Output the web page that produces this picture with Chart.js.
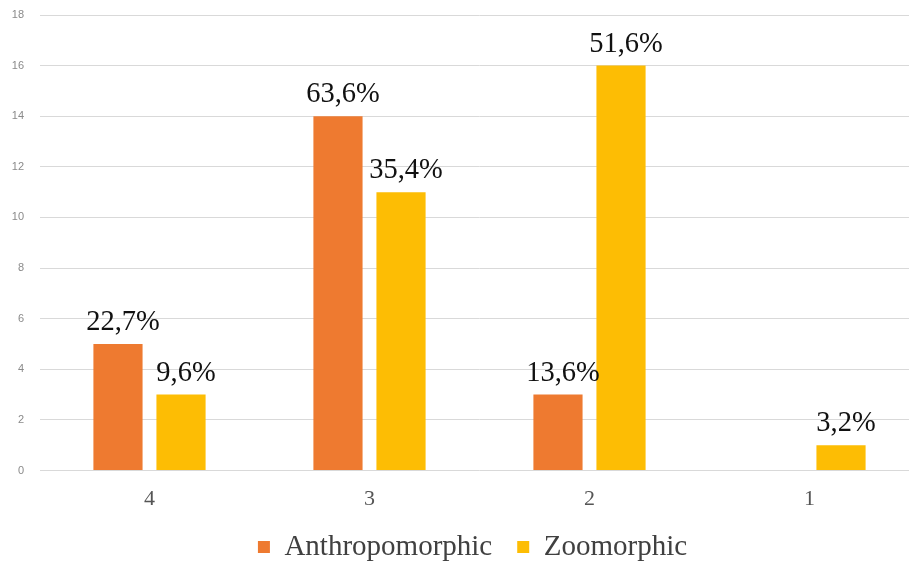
<!DOCTYPE html>
<html>
<head>
<meta charset="utf-8">
<script src="https://cdn.jsdelivr.net/npm/chart.js@4.4.1/dist/chart.umd.min.js"></script>
<style>
  html, body { margin: 0; padding: 0; background: #ffffff; overflow: hidden; }
  #wrap { position: absolute; left: 0; top: -7px; width: 945px; height: 569px; }
</style>
</head>
<body>
<div id="wrap"><canvas id="chart"></canvas></div>
<script>
// Number of items per category, with the share of each type printed above the bar
const categories = ['4', '3', '2', '1'];
const anthropomorphic = [5, 14, 3, 0];
const zoomorphic = [3, 11, 16, 1];
const anthropomorphicLabels = ['22,7%', '63,6%', '13,6%', null];
const zoomorphicLabels = ['9,6%', '35,4%', '51,6%', '3,2%'];
const yMin = 0, yMax = 18, yStep = 2;

const SERIF = '"Liberation Serif", "Times New Roman", serif';

// Percentage text above each bar
const barValueLabels = {
  id: 'barValueLabels',
  afterDatasetsDraw(chart) {
    const ctx = chart.ctx;
    ctx.save();
    ctx.font = '28.5px ' + SERIF;
    ctx.fillStyle = '#111111';
    ctx.textAlign = 'center';
    ctx.textBaseline = 'alphabetic';
    chart.data.datasets.forEach((ds, i) => {
      const meta = chart.getDatasetMeta(i);
      meta.data.forEach((bar, j) => {
        const text = ds.valueLabels[j];
        if (!text) return;
        ctx.fillText(text, bar.x + 5, bar.y - 14);
      });
    });
    ctx.restore();
  }
};

new Chart(document.getElementById('chart'), {
  type: 'bar',
  data: {
    labels: categories,
    datasets: [
      {
        label: 'Anthropomorphic',
        data: anthropomorphic,
        valueLabels: anthropomorphicLabels,
        backgroundColor: '#EE7A30',
        categoryPercentage: 0.573,
        barPercentage: 0.78
      },
      {
        label: 'Zoomorphic',
        data: zoomorphic,
        valueLabels: zoomorphicLabels,
        backgroundColor: '#FDBD04',
        categoryPercentage: 0.573,
        barPercentage: 0.78
      }
    ]
  },
  options: {
    responsive: true,
    maintainAspectRatio: false,
    animation: false,
    layout: { padding: { left: 25.5, right: 25.5, top: 22, bottom: -9.5 } },
    plugins: {
      tooltip: { enabled: false },
      legend: {
        position: 'bottom',
        labels: {
          boxWidth: 12,
          boxHeight: 12,
          padding: 25,
          color: '#404040',
          font: { family: SERIF, size: 29 }
        }
      }
    },
    scales: {
      x: {
        grid: { display: false, drawTicks: false },
        border: { display: false },
        ticks: {
          padding: 17.5,
          color: '#555555',
          font: { family: SERIF, size: 22, lineHeight: 1 }
        },
        afterFit(scale) { scale.height = 37; }
      },
      y: {
        min: yMin,
        max: yMax,
        grid: { color: '#d9d9d9', lineWidth: 1, drawTicks: false },
        border: { display: false },
        ticks: {
          stepSize: yStep,
          mirror: true,
          crossAlign: 'far',
          padding: -27.7,
          color: '#8a8a8a',
          font: { family: '"Liberation Sans", Arial, sans-serif', size: 11 }
        },
        afterFit(scale) { scale.width = 14; }
      }
    }
  },
  plugins: [barValueLabels]
});
</script>
</body>
</html>
